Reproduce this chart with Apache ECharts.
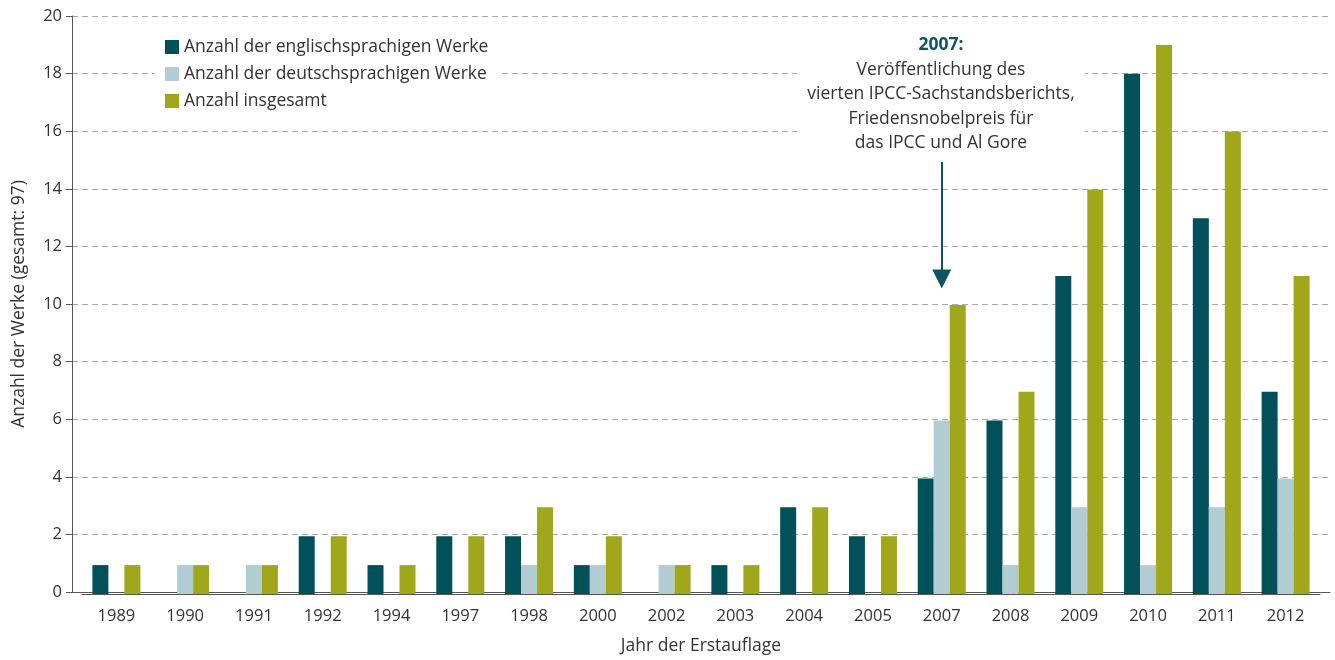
<!DOCTYPE html>
<html>
<head>
<meta charset="utf-8">
<script src="https://cdn.jsdelivr.net/npm/echarts@6/dist/echarts.min.js"></script>
<style>
  html, body { margin: 0; padding: 0; background: #fff; }
  #chart { width: 1335px; height: 660px; }
</style>
</head>
<body>
<div id="chart"></div>
<script>
// Jahre der Erstauflage
var years = ['1989', '1990', '1991', '1992', '1994', '1997', '1998', '2000', '2002',
             '2003', '2004', '2005', '2007', '2008', '2009', '2010', '2011', '2012'];
var englishWorks = [1, 0, 0, 2, 1, 2, 2, 1, 0, 1, 3, 2, 4, 6, 11, 18, 13, 7];
var germanWorks  = [0, 1, 1, 0, 0, 0, 1, 1, 1, 0, 0, 0, 6, 1, 3, 1, 3, 4];
var totalWorks   = [1, 1, 1, 2, 1, 2, 3, 2, 1, 1, 3, 2, 10, 7, 14, 19, 16, 11];
var seriesNames = ['Anzahl der englischsprachigen Werke', 'Anzahl der deutschsprachigen Werke', 'Anzahl insgesamt'];
// Pfeil zum Jahr 2007 (Start- und Endwert)
var arrowYear = '2007';
var arrowFrom = 14.95, arrowTo = 10.9;

var FONT = 'Open Sans';
var FS = 17.5;   // Texte
var FN = 16.5;   // Zahlen an den Achsen
var TEXT = '#333';
var TEAL = '#02505a', LIGHT = '#b1cdd3', OLIVE = '#a1a71a';

function nullZero(arr) {
    return arr.map(function (v) { return v === 0 ? null : v; });
}

var myChart = echarts.init(document.getElementById('chart'));
var option = {
    animation: false,
    textStyle: { fontFamily: FONT },
    grid: [
        { left: 82, right: 15, top: 16, bottom: 66 },
        { left: 72, right: 5, top: 16, bottom: 66 }
    ],
    legend: {
        data: seriesNames,
        orient: 'vertical',
        left: 155,
        top: 32,
        padding: [6, 10],
        backgroundColor: '#fff',
        itemWidth: 14,
        itemHeight: 14,
        itemGap: 9,
        icon: 'rect',
        textStyle: { fontSize: FS, color: TEXT, fontFamily: FONT }
    },
    xAxis: [
        {
            type: 'category',
            gridIndex: 0,
            data: years,
            axisLine: { lineStyle: { color: '#555', width: 1 } },
            axisTick: { length: 8, lineStyle: { color: '#555' } },
            axisLabel: { fontSize: FN, color: TEXT, margin: 14, fontFamily: FONT }
        },
        {
            type: 'value',
            gridIndex: 1,
            min: 0, max: 1,
            axisLine: { show: true, lineStyle: { color: '#555', width: 1 } },
            axisTick: { show: false },
            axisLabel: { show: false },
            splitLine: { show: false },
            name: 'Jahr der Erstauflage',
            nameLocation: 'middle',
            nameGap: 45,
            nameTextStyle: { fontSize: FS, color: TEXT, fontFamily: FONT }
        }
    ],
    yAxis: [
        { type: 'value', gridIndex: 0, min: 0, max: 20, show: false },
        {
            type: 'value',
            gridIndex: 1,
            min: 0, max: 20, interval: 2,
            axisLine: { show: true, lineStyle: { color: '#555', width: 1 } },
            axisTick: { show: true, length: 6, lineStyle: { color: '#555' } },
            axisLabel: { fontSize: FN, color: TEXT, margin: 10, fontFamily: FONT },
            splitLine: { show: true, lineStyle: { color: '#aaa', type: [6, 4], width: 1 } },
            name: 'Anzahl der Werke (gesamt: 97)',
            nameLocation: 'middle',
            nameGap: 44,
            nameTextStyle: { fontSize: FS, color: TEXT, fontFamily: FONT }
        }
    ],
    series: [
        {
            name: seriesNames[0], type: 'bar', xAxisIndex: 0, yAxisIndex: 0,
            data: nullZero(englishWorks), barWidth: 16, barGap: '0%',
            itemStyle: { color: TEAL }
        },
        {
            name: seriesNames[1], type: 'bar', xAxisIndex: 0, yAxisIndex: 0,
            data: nullZero(germanWorks), barWidth: 16, barGap: '0%',
            itemStyle: { color: LIGHT },
            markLine: {
                silent: true,
                symbol: ['none', 'triangle'],
                symbolSize: 19,
                label: { show: false },
                lineStyle: { color: '#0d5560', width: 2, type: 'solid' },
                data: [[
                    { coord: [arrowYear, arrowFrom] },
                    { coord: [arrowYear, arrowTo] }
                ]]
            }
        },
        {
            name: seriesNames[2], type: 'bar', xAxisIndex: 0, yAxisIndex: 0,
            data: nullZero(totalWorks), barWidth: 16, barGap: '0%',
            itemStyle: { color: OLIVE }
        }
    ],
    graphic: [
        {
            type: 'text',
            x: 941,
            y: 33,
            z: 10,
            style: {
                text: '{b|2007:}\nVeröffentlichung des\nvierten IPCC-Sachstandsberichts,\nFriedensnobelpreis für\ndas IPCC und Al Gore',
                align: 'center',
                backgroundColor: '#fff',
                padding: [0, 10],
                fill: TEXT,
                font: FS + 'px "' + FONT + '"',
                lineHeight: 24.5,
                rich: {
                    b: { fontWeight: 'bold', fill: '#0d5560', fontSize: FS, fontFamily: FONT, lineHeight: 24.5 }
                }
            }
        }
    ]
};
myChart.setOption(option);
</script>
</body>
</html>
